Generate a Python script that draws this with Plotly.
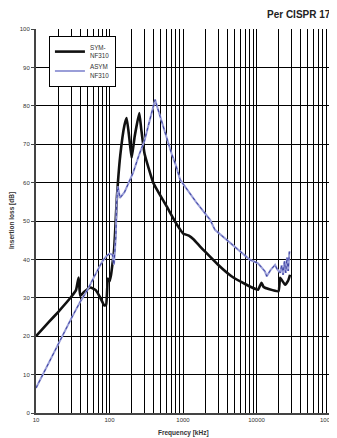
import plotly.graph_objects as go

# SYM-NF310 (black)
sym_f = [10, 15, 20, 30, 35, 38, 40, 45, 55, 65, 75, 85, 90, 95, 100, 105, 110, 115, 120, 125,
         140, 160, 171, 185, 200, 220, 254, 270, 300, 395, 600, 800, 1010, 1200, 1400, 1700, 2000,
         3000, 4570, 7000, 10000, 10500, 11700, 12500, 15000, 19900, 21000, 24500, 27000, 28600]
sym_db = [20, 23.7, 26.3, 30.2, 32, 35.3, 30.5, 31.5, 32.7, 32, 30, 28, 28.2, 35, 34.3, 36, 39, 42, 48, 55,
          67, 75, 76.8, 72, 66.4, 72, 78.1, 74, 67.5, 59.9, 53.8, 49.5, 46.7, 46.2, 45.2, 43.4, 42,
          38.6, 35.6, 33.6, 32.2, 32.1, 33.9, 32.8, 32.2, 31.7, 35.2, 33.4, 34.5, 36]

# ASYM-NF310 (blue)
asym_f = [10, 20, 30, 40, 50, 60, 70, 80, 90, 100, 110, 115, 122, 125, 130, 139, 160, 209, 250,
          300, 350, 400, 417, 450, 500, 600, 700, 800, 912, 1500, 2340, 2720, 5000, 8160, 10500,
          13000, 13800, 15500, 17900, 19000, 21000, 22000, 23000, 24000, 25000, 26000, 27000, 28000, 28600]
asym_db = [6.5, 18, 24.5, 29, 32, 35, 37.3, 39.5, 40.8, 41.5, 41.2, 38.6, 46, 55, 59, 56, 57.5, 62.5, 67,
           71, 76, 80, 81.6, 79.5, 76.5, 71.5, 67.5, 64.5, 60.8, 55, 50.3, 47.7, 43.5, 39.9, 39,
           36.9, 35.6, 37.2, 38.6, 37.5, 36.5, 38.5, 36, 39.5, 36.5, 40.5, 37, 42, 41.7]

x_major = [10, 100, 1000, 10000, 100000]
x_labels = ["10", "100", "1000", "10000", "100000"]
y_ticks = list(range(0, 101, 10))

tickvals = []
ticktext = []
for i, d in enumerate(x_major[:-1]):
    for m in range(1, 10):
        tickvals.append(d * m)
        ticktext.append(x_labels[i] if m == 1 else "")
tickvals.append(x_major[-1])
ticktext.append(x_labels[-1])

font_family = "Liberation Sans, Arial, sans-serif"

fig = go.Figure()
fig.add_trace(go.Scatter(x=sym_f, y=sym_db, mode="lines", name="SYM-<br>NF310",
                         line=dict(color="#111111", width=2.6, shape="spline", smoothing=0.4)))
fig.add_trace(go.Scatter(x=asym_f, y=asym_db, mode="lines", name="ASYM<br>NF310",
                         line=dict(color="#9a9ed8", width=2.0)))
fig.add_trace(go.Scatter(x=asym_f, y=asym_db, mode="lines", showlegend=False,
                         line=dict(color="#3a3fa0", width=1.0, dash="dot")))

# page body has an 8px default margin, so the figure is sized 8px smaller
fig.update_layout(
    width=329, height=430,
    margin=dict(l=28, r=7, t=21, b=25, autoexpand=False),
    paper_bgcolor="white", plot_bgcolor="white",
    font=dict(family=font_family, size=6, color="#333333"),
    showlegend=True,
    legend=dict(x=0.044, y=0.982, xanchor="left", yanchor="top",
                bgcolor="white", bordercolor="black", borderwidth=1,
                font=dict(size=6.3, color="#333333"), itemwidth=30, tracegroupgap=0),
    annotations=[
        dict(text="<b>Per CISPR 17</b>", x=1.0, y=1.0, xref="paper", yref="paper",
             xanchor="right", yanchor="bottom", xshift=3, yshift=7,
             showarrow=False, font=dict(size=10, color="#222222")),
        dict(text="<b>Frequency [kHz]</b>", x=0.5, y=0, xref="paper", yref="paper",
             xanchor="center", yanchor="top", yshift=-14,
             showarrow=False, font=dict(size=6.5, color="#333333")),
        dict(text="<b>Insertion loss [dB]</b>", x=0, y=0.5, xref="paper", yref="paper",
             xanchor="right", yanchor="middle", xshift=-18, textangle=-90,
             showarrow=False, font=dict(size=6.5, color="#333333")),
    ],
)

fig.update_xaxes(type="log", range=[1, 5], tickvals=tickvals, ticktext=ticktext,
                 showgrid=True, gridcolor="#000000", gridwidth=1, automargin=False,
                 ticklabeloverflow="allow",
                 showline=True, linecolor="#444444", linewidth=2, mirror=False,
                 ticks="", tickfont=dict(size=6), zeroline=False)
fig.update_yaxes(range=[0, 100], tickvals=y_ticks, automargin=False,
                 showgrid=True, gridcolor="#000000", gridwidth=1,
                 showline=True, linecolor="#444444", linewidth=2,
                 ticks="outside", ticklen=3, tickcolor="#444444", tickfont=dict(size=6), zeroline=False)

fig.write_html("out.html")
